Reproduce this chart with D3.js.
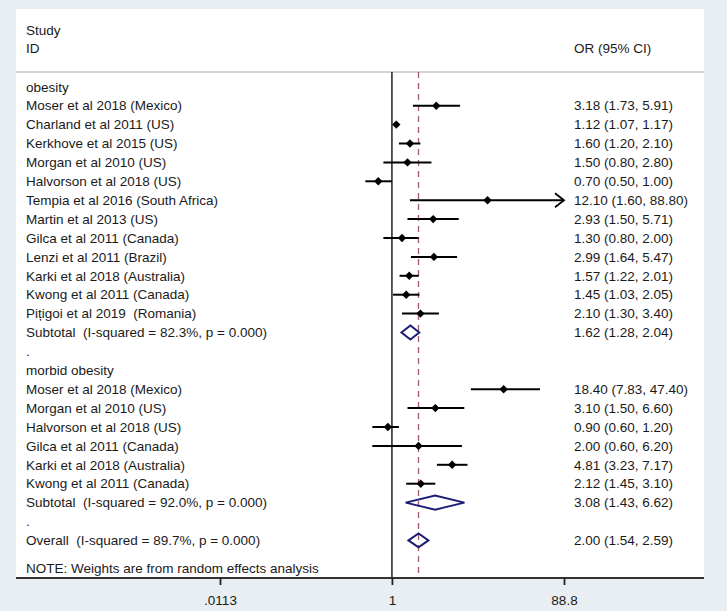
<!DOCTYPE html>
<html>
<head>
<meta charset="utf-8">
<script src="https://cdn.jsdelivr.net/npm/d3@7"></script>
<style>
  html, body { margin: 0; padding: 0; background: #e8eef1; }
  svg { display: block; font-family: "Liberation Sans", Arial, sans-serif; }
  svg text { white-space: pre; }
</style>
</head>
<body>
<svg id="chart" width="727" height="611"></svg>
<script>
// rows of the forest plot, top to bottom
const studyLabels = [
  'obesity',
  'Moser et al 2018 (Mexico)',
  'Charland et al 2011 (US)',
  'Kerkhove et al 2015 (US)',
  'Morgan et al 2010 (US)',
  'Halvorson et al 2018 (US)',
  'Tempia et al 2016 (South Africa)',
  'Martin et al 2013 (US)',
  'Gilca et al 2011 (Canada)',
  'Lenzi et al 2011 (Brazil)',
  'Karki et al 2018 (Australia)',
  'Kwong et al 2011 (Canada)',
  'Pițigoi et al 2019  (Romania)',
  'Subtotal  (I-squared = 82.3%, p = 0.000)',
  '.',
  'morbid obesity',
  'Moser et al 2018 (Mexico)',
  'Morgan et al 2010 (US)',
  'Halvorson et al 2018 (US)',
  'Gilca et al 2011 (Canada)',
  'Karki et al 2018 (Australia)',
  'Kwong et al 2011 (Canada)',
  'Subtotal  (I-squared = 92.0%, p = 0.000)',
  '.',
  'Overall  (I-squared = 89.7%, p = 0.000)'
];
// 'study' | 'pooled' | null (text only)
const rowKind = [
  null, 'study', 'study', 'study', 'study', 'study', 'study', 'study', 'study', 'study', 'study', 'study', 'study',
  'pooled', null, null,
  'study', 'study', 'study', 'study', 'study', 'study',
  'pooled', null, 'pooled'
];
const orValues = [null, 3.18, 1.12, 1.60, 1.50, 0.70, 12.10, 2.93, 1.30, 2.99, 1.57, 1.45, 2.10, 1.62, null, null,
  18.40, 3.10, 0.90, 2.00, 4.81, 2.12, 3.08, null, 2.00];
const ciLow = [null, 1.73, 1.07, 1.20, 0.80, 0.50, 1.60, 1.50, 0.80, 1.64, 1.22, 1.03, 1.30, 1.28, null, null,
  7.83, 1.50, 0.60, 0.60, 3.23, 1.45, 1.43, null, 1.54];
const ciHigh = [null, 5.91, 1.17, 2.10, 2.80, 1.00, 88.80, 5.71, 2.00, 5.47, 2.01, 2.05, 3.40, 2.04, null, null,
  47.40, 6.60, 1.20, 6.20, 7.17, 3.10, 6.62, null, 2.59];

const axisTicks = [0.0113, 1, 88.8];
const axisTickLabels = ['.0113', '1', '88.8'];
const overallOR = 2.00;
const noteText = 'NOTE: Weights are from random effects analysis';

const fmt = d3.format('.2f');
const rows = studyLabels.map((label, i) => ({
  label, kind: rowKind[i], or: orValues[i], lo: ciLow[i], hi: ciHigh[i], i
}));

const svg = d3.select('#chart');
const panel = { x: 16, y: 9, w: 688, h: 569 };
const headerLine = 72;
const axisY = 578;
const fs = 13.5;

const x = d3.scaleLog().domain([0.0113, 88.8]).range([220, 564]);
const y = d3.scaleLinear().domain([0, 1]).range([86.8, 105.7]);

// white plot region
svg.append('rect')
  .attr('x', panel.x).attr('y', panel.y)
  .attr('width', panel.w).attr('height', panel.h)
  .attr('fill', '#ffffff');

// header
const hdr = svg.append('g').attr('font-size', fs).attr('fill', '#1a1a1a');
hdr.append('text').attr('x', 26).attr('y', 35).text('Study');
hdr.append('text').attr('x', 26).attr('y', 53).text('ID');
hdr.append('text').attr('x', 574).attr('y', 53).text('OR (95% CI)');

svg.append('line')
  .attr('x1', panel.x).attr('x2', panel.x + panel.w)
  .attr('y1', headerLine).attr('y2', headerLine)
  .attr('stroke', '#c4c4c4').attr('stroke-width', 1.5);

// null line and overall line
svg.append('line')
  .attr('x1', x(1)).attr('x2', x(1))
  .attr('y1', headerLine).attr('y2', axisY)
  .attr('stroke', '#111').attr('stroke-width', 1.4);

svg.append('line')
  .attr('x1', x(overallOR)).attr('x2', x(overallOR))
  .attr('y1', headerLine).attr('y2', axisY)
  .attr('stroke', '#a85a68').attr('stroke-width', 1.3)
  .attr('stroke-dasharray', '6,5');

// row labels
svg.append('g').attr('font-size', fs).attr('fill', '#1a1a1a')
  .selectAll('text')
  .data(rows)
  .join('text')
  .attr('x', 26)
  .attr('y', d => y(d.i))
  .attr('dy', '0.35em')
  .text(d => d.label);

// OR (95% CI) column
svg.append('g').attr('font-size', fs).attr('fill', '#1a1a1a')
  .selectAll('text')
  .data(rows.filter(d => d.kind))
  .join('text')
  .attr('x', 574)
  .attr('y', d => y(d.i))
  .attr('dy', '0.35em')
  .text(d => `${fmt(d.or)} (${fmt(d.lo)}, ${fmt(d.hi)})`);

// study CIs
const studies = rows.filter(d => d.kind === 'study');
const xMax = x.domain()[1];
svg.append('g')
  .selectAll('line')
  .data(studies)
  .join('line')
  .attr('x1', d => x(d.lo))
  .attr('x2', d => x(Math.min(d.hi, xMax)))
  .attr('y1', d => y(d.i)).attr('y2', d => y(d.i))
  .attr('stroke', '#000').attr('stroke-width', 2);

// arrow for intervals that reach the axis end
svg.append('g')
  .selectAll('path')
  .data(studies.filter(d => d.hi >= xMax))
  .join('path')
  .attr('d', d => {
    const xe = x(xMax), yc = y(d.i);
    return `M${xe - 9},${yc - 7}L${xe},${yc}L${xe - 9},${yc + 7}`;
  })
  .attr('fill', 'none').attr('stroke', '#000').attr('stroke-width', 1.8);

// point estimates
svg.append('g')
  .selectAll('path')
  .data(studies)
  .join('path')
  .attr('d', d => {
    const cx = x(d.or), cy = y(d.i), r = 4.2;
    return `M${cx},${cy - r}L${cx + r},${cy}L${cx},${cy + r}L${cx - r},${cy}Z`;
  })
  .attr('fill', '#000');

// pooled diamonds
svg.append('g')
  .selectAll('path')
  .data(rows.filter(d => d.kind === 'pooled'))
  .join('path')
  .attr('d', d => {
    const cy = y(d.i), h = 7;
    return `M${x(d.lo)},${cy}L${x(d.or)},${cy - h}L${x(d.hi)},${cy}L${x(d.or)},${cy + h}Z`;
  })
  .attr('fill', 'none').attr('stroke', '#1c1c78').attr('stroke-width', 2);

// note
svg.append('text')
  .attr('x', 26).attr('y', y(25.5)).attr('dy', '0.35em')
  .attr('font-size', fs).attr('fill', '#1a1a1a')
  .text(noteText);

// x axis
svg.append('line')
  .attr('x1', panel.x).attr('x2', panel.x + panel.w)
  .attr('y1', axisY).attr('y2', axisY)
  .attr('stroke', '#333').attr('stroke-width', 2);

const xAxis = d3.axisBottom(x)
  .tickValues(axisTicks)
  .tickFormat((d, i) => axisTickLabels[i])
  .tickSize(7)
  .tickPadding(10);

const gx = svg.append('g')
  .attr('transform', `translate(0,${axisY})`)
  .call(xAxis);
gx.select('.domain').remove();
gx.selectAll('.tick line').attr('stroke', '#222').attr('stroke-width', 1.8);
gx.selectAll('.tick text')
  .attr('font-size', fs)
  .attr('font-family', '"Liberation Sans", Arial, sans-serif')
  .attr('fill', '#1a1a1a');
</script>
</body>
</html>
